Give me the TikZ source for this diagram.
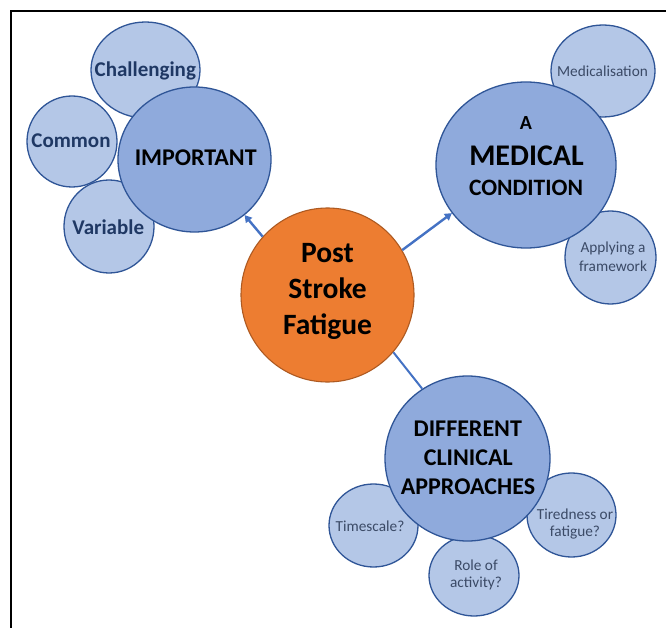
\documentclass[tikz,border=0pt]{standalone}
\usepackage{fontspec}
\setmainfont{Carlito}
\usetikzlibrary{shapes.geometric,arrows.meta}
\definecolor{mainfill}{HTML}{8FAADC}
\definecolor{subfill}{HTML}{B4C7E7}
\definecolor{ringblue}{HTML}{2F5597}
\definecolor{corefill}{HTML}{ED7D31}
\definecolor{corering}{HTML}{AE5A21}
\definecolor{linkblue}{HTML}{4472C4}
\definecolor{navytext}{HTML}{1F3864}
\definecolor{slatetext}{HTML}{3B4A66}
\tikzset{
  blob/.style={shape=ellipse, inner sep=0pt, line width=1.3pt, draw=ringblue},
  mainc/.style={blob, fill=mainfill},
  subc/.style={blob, fill=subfill},
  corec/.style={shape=ellipse, inner sep=0pt, line width=1.1pt, draw=corering, fill=corefill},
  conn/.style={draw=linkblue, line width=2.4pt},
  arrowconn/.style={conn, -{Triangle[length=7pt,width=8pt]}},
  lbl/.style={anchor=base, inner sep=0pt, text=black},
  boldsub/.style={lbl, text=navytext, font=\fontsize{21}{25}\selectfont\bfseries},
  plainsub/.style={lbl, text=slatetext, font=\fontsize{15.3}{18}\selectfont},
  frameline/.style={draw=black, line width=1.5pt}
}
\begin{document}
\begin{tikzpicture}[x=1pt,y=-1pt]
\useasboundingbox (0,0) rectangle (666,628);
\fill[white] (0,0) rectangle (666,628);
\draw[frameline] (11,628) -- (11,11) -- (666,11);

% small circles (behind)
\node[subc, minimum width=109pt, minimum height=96pt] (chal) at (145.5,70) {};
\node[subc, minimum width=90pt, minimum height=91pt] (comm) at (72,141.5) {};
\node[subc, minimum width=90pt, minimum height=93pt] (vari) at (109,226.5) {};
\node[subc, minimum width=104pt, minimum height=92pt] (medi) at (603,71) {};
\node[subc, minimum width=91pt, minimum height=93pt] (appl) at (610.5,257.5) {};
\node[subc, minimum width=89pt, minimum height=83pt] (time) at (373.5,525.5) {};
\node[subc, minimum width=90pt, minimum height=81pt] (role) at (474,575.5) {};
\node[subc, minimum width=89pt, minimum height=84pt] (tire) at (571.5,515) {};

% main circles
\node[mainc, minimum width=153pt, minimum height=145pt] (imp) at (194.5,159.5) {};
\node[mainc, minimum width=180pt, minimum height=166pt] (med) at (526,165) {};
\node[mainc, minimum width=165pt, minimum height=165pt] (diff) at (467.5,458.5) {};

% core
\node[corec, minimum width=173pt, minimum height=174pt] (core) at (327.5,295) {};

% connectors
\draw[arrowconn] (core.138) -- (imp.-48.7);
\draw[arrowconn] (core.31.6) -- (med.-147.2);
\draw[conn, line width=2pt] (core.-41.4) -- (diff.123.5);

% texts
\node[boldsub] (tchal) at (145.3,77) {Challenging};
\node[boldsub] (tcomm) at (71,148) {Common};
\node[boldsub] (tvari) at (108.3,235) {Variable};
\node[lbl, font=\fontsize{24}{28}\selectfont\bfseries] (timp) at (195.7,165.7) {IMPORTANT};

\node[lbl, font=\fontsize{20}{24}\selectfont\bfseries] (tmedA) at (526,130) {A};
\node[lbl, font=\fontsize{30}{34}\selectfont\bfseries] (tmedB) at (526.5,166) {MEDICAL};
\node[lbl, font=\fontsize{23.5}{28}\selectfont\bfseries] (tmedC) at (526,196) {CONDITION};
\node[plainsub] (tmedi) at (602.5,77) {Medicalisation};
\node[plainsub] (tappA) at (613,253) {Applying a};
\node[plainsub] (tappB) at (613,271.7) {framework};

\node[lbl, font=\fontsize{29.5}{36}\selectfont\bfseries] (tcoreA) at (327.5,262) {Post};
\node[lbl, font=\fontsize{29.5}{36}\selectfont\bfseries] (tcoreB) at (327.5,298) {Stroke};
\node[lbl, font=\fontsize{29.5}{36}\selectfont\bfseries] (tcoreC) at (327.5,334) {Fatigue};

\node[lbl, font=\fontsize{24}{29}\selectfont\bfseries] (tdifA) at (467.8,436.7) {DIFFERENT};
\node[lbl, font=\fontsize{24}{29}\selectfont\bfseries] (tdifB) at (468.3,465) {CLINICAL};
\node[lbl, font=\fontsize{24}{29}\selectfont\bfseries] (tdifC) at (468,494.3) {APPROACHES};
\node[plainsub] (ttime) at (370,531.7) {Timescale?};
\node[plainsub] (troleA) at (476,570) {Role of};
\node[plainsub] (troleB) at (476,587.5) {activity?};
\node[plainsub] (ttirA) at (575,519) {Tiredness or};
\node[plainsub] (ttirB) at (575,536.5) {fatigue?};
\end{tikzpicture}
\end{document}
